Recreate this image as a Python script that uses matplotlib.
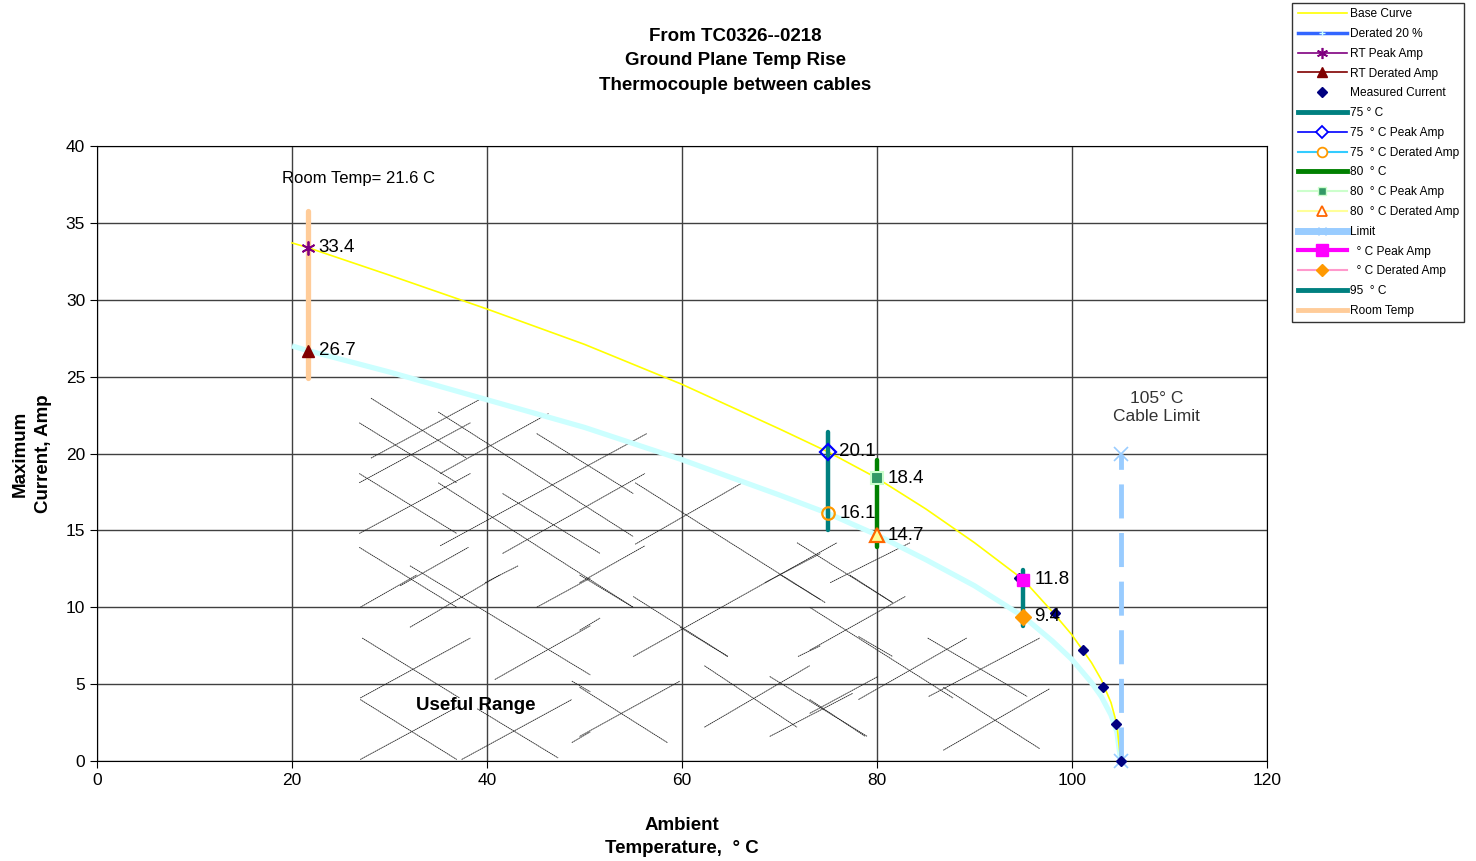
import numpy as np
import matplotlib
matplotlib.use("Agg")
import matplotlib.pyplot as plt
from matplotlib.lines import Line2D

plt.rcParams["font.family"] = ["Liberation Sans", "DejaVu Sans"]

# base curve and 20 % derated curve (temp C, amps)
curve_temp = [20, 21.6, 30, 40, 50, 60, 70, 75, 80, 85, 90, 95, 98, 100,
              102, 103, 104, 104.6, 105]
base_amp = [33.7, 33.4, 31.6, 29.4, 27.1, 24.5, 21.6, 20.1, 18.4, 16.4,
            14.2, 11.8, 9.7, 8.2, 6.4, 5.3, 3.8, 2.4, 0.0]
derated_amp = [27.0, 26.7, 25.3, 23.5, 21.7, 19.6, 17.3, 16.1, 14.7, 13.1,
               11.4, 9.4, 7.8, 6.6, 5.1, 4.2, 3.0, 1.9, 0.0]

meas_temp = [94.6, 98.3, 101.1, 103.2, 104.5, 105]
meas_amp = [11.9, 9.6, 7.2, 4.8, 2.4, 0.0]

room_temp = 21.6
rt_peak, rt_derated = 33.4, 26.7
room_bar = [24.9, 35.8]

t75, peak75, der75, bar75 = 75, 20.1, 16.1, [15.0, 21.4]
t80, peak80, der80, bar80 = 80, 18.4, 14.7, [13.9, 19.6]
t95, peak95, der95, bar95 = 95, 11.8, 9.4, [8.8, 12.4]

limit_temp = 105
limit_amp = [0, 20]

# "useful range" hatch strokes: (t1, a1, t2, a2)
hatch_back = [
    (28.1, 23.6, 37.9, 19.7), (26.9, 22.0, 36.9, 18.1), (35.0, 22.7, 55.0, 14.6),
    (26.9, 18.7, 36.9, 14.8), (35.0, 18.1, 55.0, 10.0), (45.1, 21.3, 55.0, 17.4),
    (41.6, 17.4, 51.6, 13.5), (26.9, 13.9, 36.9, 10.0), (32.1, 12.7, 50.6, 5.6),
    (55.2, 18.1, 74.7, 10.3), (71.8, 14.2, 81.6, 10.3), (49.5, 12.1, 55.0, 10.0),
    (55.0, 10.7, 64.7, 6.8), (49.5, 4.8, 58.5, 1.2), (62.3, 6.2, 71.8, 2.2),
    (69.0, 5.5, 79.0, 1.6), (70.1, 12.1, 74.2, 10.5), (73.1, 10.0, 87.8, 4.1),
    (78.1, 8.1, 81.6, 6.8), (85.2, 8.0, 95.4, 4.2), (73.1, 4.0, 78.8, 1.6),
    (77.2, 12.1, 81.6, 10.3), (86.8, 4.8, 96.7, 0.8), (27.2, 8.0, 37.2, 4.1),
    (27.0, 4.0, 36.9, 0.1), (39.0, 3.4, 47.3, 0.2), (48.7, 5.2, 50.6, 4.5),
    (59.8, 8.7, 64.7, 6.8),
]
hatch_fwd = [
    (28.1, 19.7, 39.5, 23.6), (26.9, 18.1, 38.3, 22.0), (35.2, 18.7, 46.3, 22.6),
    (26.9, 14.8, 38.3, 18.7), (35.2, 14.0, 56.4, 21.3), (41.6, 13.5, 56.2, 18.7),
    (31.1, 11.4, 38.1, 13.9), (39.8, 11.6, 43.2, 12.7), (55.2, 14.1, 66.2, 18.1),
    (49.5, 11.6, 56.2, 14.0), (68.5, 11.6, 74.2, 13.5), (75.2, 11.6, 83.4, 14.2),
    (27.0, 10.0, 32.8, 12.1), (32.1, 8.7, 41.3, 12.1), (45.1, 10.0, 50.6, 11.9),
    (27.0, 4.1, 38.3, 8.0), (40.8, 5.3, 50.6, 8.8), (27.0, 0.1, 37.2, 3.6),
    (37.4, 0.1, 48.7, 4.0), (48.7, 1.2, 50.6, 1.9), (49.5, 8.5, 51.6, 9.3),
    (55.0, 6.8, 75.9, 14.2), (49.5, 1.6, 59.8, 5.2), (62.3, 2.2, 73.1, 6.2),
    (69.0, 1.6, 77.5, 4.4), (71.9, 6.8, 74.2, 7.5), (73.1, 7.2, 82.9, 10.7),
    (78.1, 4.0, 89.2, 8.0), (73.1, 3.1, 80.1, 5.5), (85.3, 4.2, 96.7, 8.0),
    (86.8, 0.7, 97.7, 4.7),
]

fig = plt.figure(figsize=(14.76, 8.61), dpi=100)
ax = fig.add_axes([0.0657, 0.1161, 0.7927, 0.7143])

ax.set_xlim(0, 120)
ax.set_ylim(0, 40)
ax.set_xticks(np.arange(0, 121, 20))
ax.set_yticks(np.arange(0, 41, 5))
ax.grid(True, color="#404040", lw=1.0)
ax.set_axisbelow(True)
ax.tick_params(labelsize=12.5, length=5, direction="out")
for s in ax.spines.values():
    s.set_color("black")

# hatch strokes
for t1, a1, t2, a2 in hatch_back + hatch_fwd:
    ax.plot([t1, t2], [a1, a2], color="#222222", lw=0.6, ls=(0, (2, 0.5)), zorder=2)

# curves
ax.plot(curve_temp, derated_amp, color="#CCFFFF", lw=3.8, zorder=3,
        solid_capstyle="butt")
ax.plot(curve_temp, base_amp, color="#FFFF00", lw=1.2, zorder=4)

# vertical bars
ax.plot([room_temp] * 2, room_bar, color="#FFCC99", lw=3.8, zorder=5,
        solid_capstyle="round")
ax.plot([t75] * 2, bar75, color="#008080", lw=3.2, zorder=5, solid_capstyle="round")
ax.plot([t80] * 2, bar80, color="#008000", lw=3.2, zorder=5, solid_capstyle="round")
ax.plot([t95] * 2, bar95, color="#008080", lw=3.2, zorder=5, solid_capstyle="round")
ax.plot([limit_temp] * 2, limit_amp, color="#99CCFF", lw=3.5, ls=(0, (7, 3)),
        marker="x", ms=10, mew=1.2, zorder=5, clip_on=False)

ax.plot(meas_temp, meas_amp, ls="none", marker="D", ms=5, color="#000080",
        zorder=6, clip_on=False)

# peak / derated markers
ax.plot(room_temp, rt_peak, marker=(6, 2, 0), ms=10, mew=1.3, color="#800080", zorder=7)
ax.plot(room_temp, rt_derated, marker="^", ms=9, color="#800000", zorder=7)
ax.plot(t75, peak75, marker="D", ms=8.5, mfc="none", mec="#0000FF", mew=1.6, zorder=7)
ax.plot(t75, der75, marker="o", ms=9, mfc="none", mec="#FF9900", mew=1.6, zorder=7)
ax.plot(t80, peak80, marker="s", ms=9, mfc="#339966", mec="#CCFFCC", mew=1.5, zorder=7)
ax.plot(t80, der80, marker="^", ms=10, mfc="#FFFF99", mec="#FF6600", mew=1.6, zorder=7)
ax.plot(t95, peak95, marker="s", ms=9, color="#FF00FF", zorder=7)
ax.plot(t95, der95, marker="D", ms=8.5, color="#FF9900", zorder=7)

for t, a in [(room_temp, rt_peak), (room_temp, rt_derated), (t75, peak75),
             (t75, der75), (t80, peak80), (t80, der80), (t95, peak95), (t95, der95)]:
    ax.annotate(f"{a:.1f}", (t, a), xytext=(8, 0), textcoords="offset points",
                fontsize=13.5, va="center", ha="left", zorder=8)

ax.text(19.0, 37.9, "Room Temp= 21.6 C", fontsize=12, ha="left", va="center")
ax.text(108.7, 23.0, "105° C\nCable Limit", fontsize=12.5, ha="center",
        va="center", color="#333333", linespacing=1.3)
ax.text(38.8, 3.6, "Useful Range", fontsize=13.5, fontweight="bold",
        ha="center", va="center", zorder=8)

ax.set_xlabel("Ambient\nTemperature,  ° C", fontsize=13.5, fontweight="bold",
              labelpad=21, linespacing=1.45)
ax.set_ylabel("Maximum\nCurrent, Amp", fontsize=13.5, fontweight="bold",
              labelpad=10, linespacing=1.5)

fig.text(0.498, 0.968, "From TC0326--0218\nGround Plane Temp Rise\nThermocouple between cables",
         fontsize=13.5, fontweight="bold", ha="center", va="top", linespacing=1.6)

handles = [
    Line2D([], [], color="#FFFF00", lw=1.2),
    Line2D([], [], color="#3366FF", lw=2.5, marker="+", ms=4, mec="#CCFFFF"),
    Line2D([], [], color="#800080", lw=1.2, marker=(6, 2, 0), ms=8, mew=1.2),
    Line2D([], [], color="#800000", lw=1.2, marker="^", ms=7),
    Line2D([], [], ls="none", marker="D", ms=5, color="#000080"),
    Line2D([], [], color="#008080", lw=3.5),
    Line2D([], [], color="#0000FF", lw=1.2, marker="D", ms=6, mfc="white", mew=1.3),
    Line2D([], [], color="#33CCFF", lw=1.5, marker="o", ms=7, mfc="white", mec="#FF9900", mew=1.3),
    Line2D([], [], color="#008000", lw=3.5),
    Line2D([], [], color="#CCFFCC", lw=1.5, marker="s", ms=6, mfc="#339966", mec="#CCFFCC"),
    Line2D([], [], color="#FFFF99", lw=1.5, marker="^", ms=7, mfc="white", mec="#FF6600", mew=1.3),
    Line2D([], [], color="#99CCFF", lw=5, marker="x", ms=6),
    Line2D([], [], color="#FF00FF", lw=3, marker="s", ms=8),
    Line2D([], [], color="#FF99CC", lw=1.5, marker="D", ms=6, mfc="#FF9900", mec="#FF9900"),
    Line2D([], [], color="#008080", lw=3.5),
    Line2D([], [], color="#FFCC99", lw=3.5),
]
labels = ["Base Curve", "Derated 20 %", "RT Peak Amp", "RT Derated Amp",
          "Measured Current", "75 ° C", "75  ° C Peak Amp", "75  ° C Derated Amp",
          "80  ° C", "80  ° C Peak Amp", "80  ° C Derated Amp", "Limit",
          "  ° C Peak Amp", "  ° C Derated Amp", "95  ° C", "Room Temp"]
leg = fig.legend(handles, labels, loc="upper left", bbox_to_anchor=(0.8755, 0.9965),
                 fontsize=8.6, frameon=True, fancybox=False, handlelength=4.1,
                 handletextpad=0.25, labelspacing=0.65, borderpad=0.45,
                 borderaxespad=0, numpoints=1)
leg.get_frame().set_edgecolor("black")
leg.get_frame().set_linewidth(1.0)

fig.savefig("out.png", dpi=100)
